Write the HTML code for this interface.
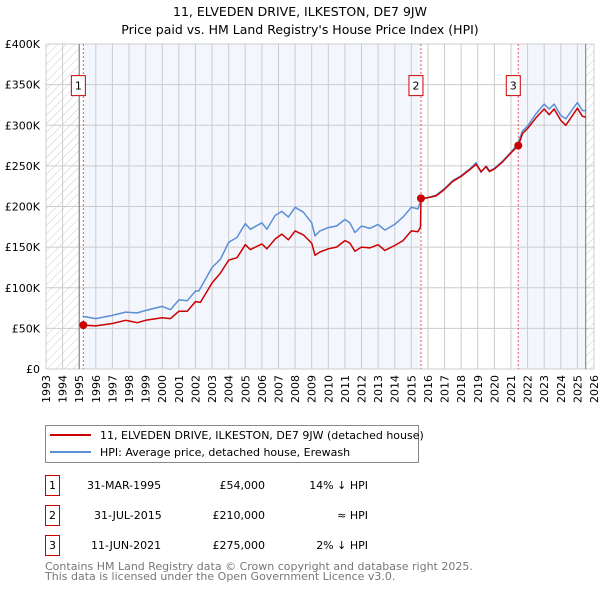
<!DOCTYPE html>
<html><head><meta charset="utf-8"><style>
body{margin:0;background:#fff;font-family:"Liberation Sans","DejaVu Sans",sans-serif;}
svg text{font-family:"DejaVu Sans","Liberation Sans",sans-serif;}
</style></head><body>
<svg id="c" width="600" height="590" xmlns="http://www.w3.org/2000/svg">
<defs><pattern id="h" width="6" height="6" patternUnits="userSpaceOnUse" patternTransform="rotate(45)"><line x1="0" y1="0" x2="0" y2="6" stroke="#ccc" stroke-width="1"/></pattern></defs>
<text x="300" y="16" text-anchor="middle" font-size="12.5">11, ELVEDEN DRIVE, ILKESTON, DE7 9JW</text>
<text x="300" y="34" text-anchor="middle" font-size="12.5">Price paid vs. HM Land Registry's House Price Index (HPI)</text>
<g id="plot"></g>
<g>
<rect x="45.5" y="425.5" width="373" height="37" fill="#fff" stroke="#888"/>
<line x1="50" y1="435" x2="91" y2="435" stroke="#cc0000" stroke-width="2"/>
<text x="100" y="439" font-size="11">11, ELVEDEN DRIVE, ILKESTON, DE7 9JW (detached house)</text>
<line x1="50" y1="452" x2="91" y2="452" stroke="#5a8fd4" stroke-width="2"/>
<text x="100" y="456" font-size="11">HPI: Average price, detached house, Erewash</text>
</g>
<g font-size="11">
<rect x="45.5" y="475.5" width="14" height="20" fill="#fff" stroke="#cc0000"/><text x="52.5" y="489" text-anchor="middle">1</text>
<text x="87" y="489">31-MAR-1995</text><text x="265" y="489" text-anchor="end">£54,000</text><text x="368" y="489" text-anchor="end">14% ↓ HPI</text>
<rect x="45.5" y="505.5" width="14" height="20" fill="#fff" stroke="#cc0000"/><text x="52.5" y="519" text-anchor="middle">2</text>
<text x="94" y="519">31-JUL-2015</text><text x="265" y="519" text-anchor="end">£210,000</text><text x="368" y="519" text-anchor="end">≈ HPI</text>
<rect x="45.5" y="535.5" width="14" height="20" fill="#fff" stroke="#cc0000"/><text x="52.5" y="549" text-anchor="middle">3</text>
<text x="91" y="549">11-JUN-2021</text><text x="265" y="549" text-anchor="end">£275,000</text><text x="368" y="549" text-anchor="end">2% ↓ HPI</text>
</g>
<text x="45" y="570" font-size="11" fill="#777">Contains HM Land Registry data © Crown copyright and database right 2025.</text>
<text x="45" y="580" font-size="11" fill="#777">This data is licensed under the Open Government Licence v3.0.</text>
</svg>
<script>
const hpiYears=[1995.2,1996,1997,1997.8,1998.5,1999,2000,2000.5,2001,2001.5,2002,2002.2,2003,2003.5,2004,2004.5,2005,2005.3,2006,2006.3,2006.8,2007.2,2007.6,2008,2008.5,2009,2009.2,2009.5,2010,2010.5,2011,2011.3,2011.6,2012,2012.5,2013,2013.4,2014,2014.5,2015,2015.4,2015.6,2016,2016.5,2017,2017.5,2018,2018.5,2018.9,2019.2,2019.5,2019.7,2020,2020.5,2021,2021.4,2021.7,2022,2022.5,2023,2023.3,2023.6,2024,2024.3,2025,2025.3,2025.5];
const hpiValues=[65,62,66,70,69,72,77,73,85,84,96,96,125,135,156,162,179,172,180,172,189,194,187,199,193,180,164,170,174,176,184,180,168,176,173,178,171,178,187,199,197,209,211,214,222,232,238,246,254,242,250,244,247,256,267,277,293,299,314,326,320,326,312,308,328,318,318];
const priceYears=[1995.25,1996,1997,1997.8,1998.5,1999,2000,2000.5,2001,2001.5,2002,2002.3,2003,2003.5,2004,2004.5,2005,2005.3,2006,2006.3,2006.8,2007.2,2007.6,2008,2008.5,2009,2009.2,2009.5,2010,2010.5,2011,2011.3,2011.6,2012,2012.5,2013,2013.4,2014,2014.5,2015,2015.4,2015.55,2015.58,2016,2016.5,2017,2017.5,2018,2018.5,2018.9,2019.2,2019.5,2019.7,2020,2020.5,2021,2021.44,2021.7,2022,2022.5,2023,2023.3,2023.6,2024,2024.3,2025,2025.3,2025.5];
const priceValues=[54,53,56,60,57,60,63,62,71,71,83,82,106,118,134,137,153,147,154,148,160,166,159,170,165,155,140,144,148,150,158,155,145,150,149,153,146,152,158,170,169,175,210,211,213,221,231,237,245,252,243,249,243,246,255,266,275,290,296,309,320,313,320,306,300,321,311,310];
const saleYears=[1995.25,2015.58,2021.44];
const saleValues=[54,210,275];
const saleLabels=["1","2","3"];
const yTicks=[0,50,100,150,200,250,300,350,400];
const yTickLabels=["£0","£50K","£100K","£150K","£200K","£250K","£300K","£350K","£400K"];
const xTicks=[1993,1994,1995,1996,1997,1998,1999,2000,2001,2002,2003,2004,2005,2006,2007,2008,2009,2010,2011,2012,2013,2014,2015,2016,2017,2018,2019,2020,2021,2022,2023,2024,2025,2026];

const X0=46,X1=594,Y0=369,Y1=44;
const xs=y=>X0+(y-1993)/(2026-1993)*(X1-X0);
const ys=v=>Y0-v/400*(Y0-Y1);
const NS="http://www.w3.org/2000/svg";
const g=document.getElementById('plot');
function mk(t,a,p){const e=document.createElementNS(NS,t);for(const k in a)e.setAttribute(k,a[k]);(p||g).appendChild(e);return e;}
let r;
r=mk('rect',{x:xs(1993),y:Y1,width:xs(1995)-xs(1993),height:Y0-Y1,fill:'url(#h)'});


r=mk('rect',{x:xs(2025.5),y:Y1,width:X1-xs(2025.5),height:Y0-Y1,fill:'url(#h)'});


r=mk('rect',{x:xs(saleYears[0]),y:Y1,width:xs(saleYears[1])-xs(saleYears[0]),height:Y0-Y1,fill:'#f3f6fd'});


r=mk('rect',{x:xs(saleYears[2]),y:Y1,width:xs(2025.5)-xs(saleYears[2]),height:Y0-Y1,fill:'#f3f6fd'});


xTicks.forEach(t=>{const x=xs(t);
 const l=mk('line',{x1:x,x2:x,y1:Y1,y2:Y0,stroke:'#ccc','stroke-width':1});
 
 
 const tx=mk('text',{x:0,y:0,'font-size':11,'text-anchor':'end',transform:`translate(${x+4},${Y0+6}) rotate(-90)`});
 tx.textContent=t;
 
 
});
yTicks.forEach((t,i)=>{const y=ys(t);
 const l=mk('line',{x1:X0,x2:X1,y1:y,y2:y,stroke:'#ccc','stroke-width':1});
 
 
 const tx=mk('text',{x:X0-6,y:y+4,'font-size':11,'text-anchor':'end'});
 tx.textContent=yTickLabels[i];
 
 
});
[1995,2025.5].forEach(t=>{const l=mk('line',{x1:xs(t),x2:xs(t),y1:Y1,y2:Y0,stroke:'#777','stroke-width':1});
 
 });
saleYears.forEach((t,i)=>{const x=xs(t);
 const l=mk('line',{x1:x,x2:x,y1:Y1,y2:Y0,stroke:'#e06060','stroke-width':1,'stroke-dasharray':'2,2'});
 
 
});
function path(xa,va,col,name){const d=xa.map((t,i)=>(i?'L':'M')+xs(t).toFixed(1)+','+ys(va[i]).toFixed(1)).join('');
 const p=mk('path',{d:d,fill:'none',stroke:col,'stroke-width':1.5,'stroke-linejoin':'round'});
 
 }
path(hpiYears,hpiValues,'#5a8fd4','hpi-line');
path(priceYears,priceValues,'#cc0000','price-paid-line');
saleYears.forEach((t,i)=>{
 const c=mk('circle',{cx:xs(t),cy:ys(saleValues[i]),r:4,fill:'#cc0000'});
 
 
 const bx=xs(t)-12, by=ys(350)-9;
 const b=mk('rect',{x:bx,y:by,width:14,height:20,fill:'#fff',stroke:'#cc0000'});
 
 
 const tx=mk('text',{x:bx+7,y:by+14,'font-size':11,'text-anchor':'middle'});
 tx.textContent=saleLabels[i];
 
 
});
</script>
</body></html>
